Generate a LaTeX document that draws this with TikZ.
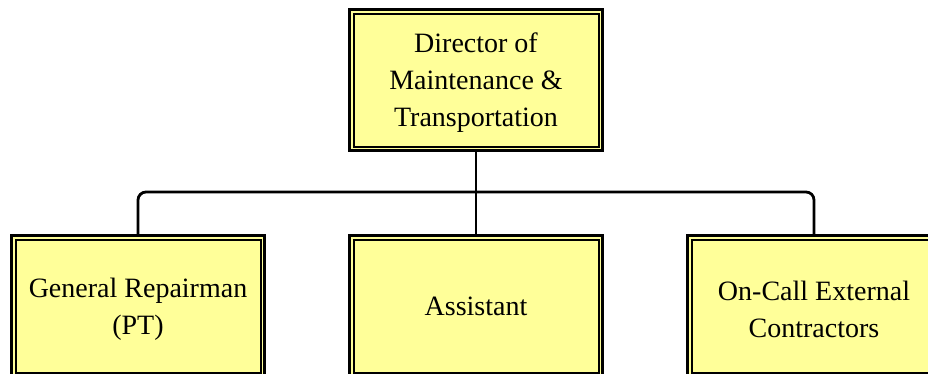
\documentclass[tikz,border=0pt]{standalone}
\usepackage{fontspec}
\setmainfont{Liberation Serif}
\definecolor{boxfill}{RGB}{255,255,153}
\newcommand{\topstrut}{\rule{0pt}{25.5pt}}
\begin{document}
\begin{tikzpicture}[x=1pt,y=1pt,
  orgbox/.style={draw=black, line width=3pt, fill=boxfill,
    minimum width=253pt, minimum height=141pt, inner sep=0pt,
    align=center, font=\fontsize{28}{37}\selectfont},
  innerline/.style={draw=black, line width=2pt},
  link/.style={draw=black, line width=2.8pt, rounded corners=8pt}]
\clip (0,0) rectangle (928,-373);
\node[orgbox] (dir) at (476,-80) {\topstrut Director of\\Maintenance \&\\Transportation};
\node[orgbox] (gen) at (138,-306) {\topstrut General Repairman\\(PT)};
\node[orgbox] (asst) at (476,-306) {Assistant};
\node[orgbox] (ext) at (814,-306) {\topstrut On-Call External\\Contractors};
\foreach \n in {dir,gen,asst,ext}{
  \draw[innerline] ([shift={(5.5pt,5.5pt)}]\n.south west) rectangle ([shift={(-5.5pt,-5.5pt)}]\n.north east);
}
\coordinate (bar) at (476,-192);
\draw[link] (dir.south) -- (asst.north);
\draw[link] (bar) -| (gen.north);
\draw[link] (bar) -| (ext.north);
\end{tikzpicture}
\end{document}
